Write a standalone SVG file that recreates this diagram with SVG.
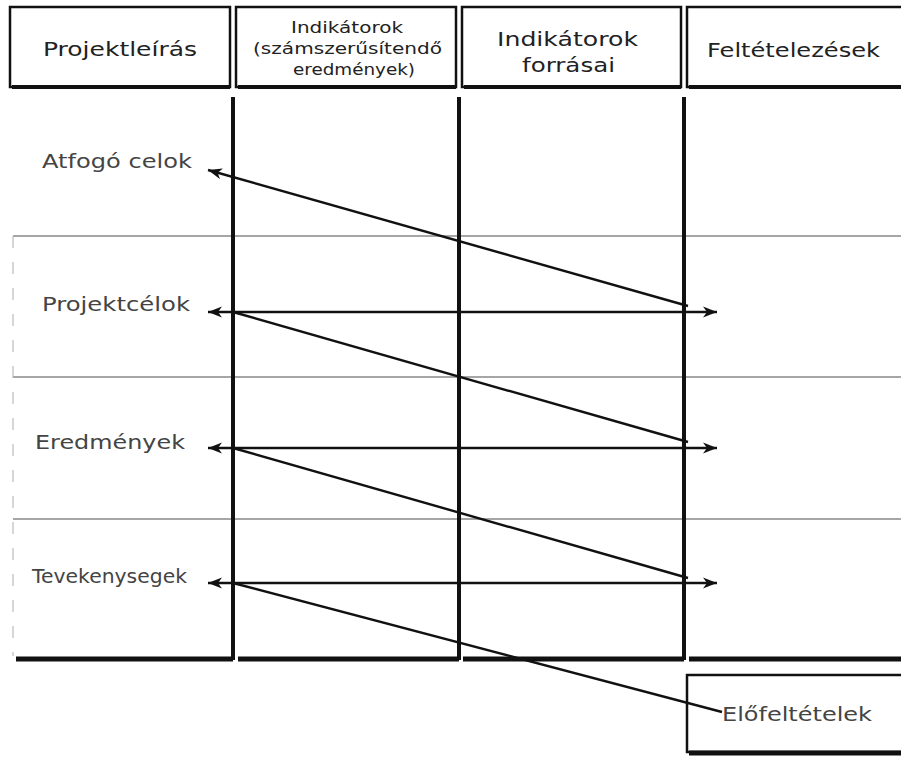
<svg xmlns="http://www.w3.org/2000/svg" width="901" height="760" viewBox="0 0 901 760">
<style>
.hbox{fill:#fff;stroke:#111;stroke-width:2.5}
.shadow{stroke:#111;stroke-width:4;fill:none}
.col{stroke:#111;stroke-width:4;fill:none}
.grid{stroke:#888;stroke-width:1.3;fill:none}
.edge{fill:none;stroke:#600;stroke:#111;stroke-width:2.4}
.ht{font-family:"DejaVu Sans","Liberation Sans",sans-serif;fill:#222}
.lt{font-family:"DejaVu Sans","Liberation Sans",sans-serif;fill:#444;font-size:19px}
</style>
<defs>
<marker id="ah" markerUnits="userSpaceOnUse" markerWidth="16" markerHeight="12" refX="14" refY="6" orient="auto-start-reverse">
<path d="M0,0.5 L14,6 L0,11.5 L4,6 Z" fill="#111"/>
</marker>
</defs>
<rect width="901" height="760" fill="#fff"/>

<g id="grid">
<line class="grid" x1="13" y1="236" x2="901" y2="236"/>
<line class="grid" x1="13" y1="377" x2="901" y2="377"/>
<line class="grid" x1="13" y1="519" x2="901" y2="519"/>
<line x1="13" y1="236" x2="13" y2="656" stroke="#bbb" stroke-width="1.2" stroke-dasharray="12 14"/>
<line class="col" x1="233" y1="97" x2="233" y2="660"/>
<line class="col" x1="459" y1="97" x2="459" y2="660"/>
<line class="col" x1="684" y1="97" x2="684" y2="660"/>
<line x1="16" y1="659" x2="233" y2="659" stroke="#111" stroke-width="5"/>
<line x1="238" y1="659" x2="459" y2="659" stroke="#111" stroke-width="5"/>
<line x1="463" y1="659" x2="684" y2="659" stroke="#111" stroke-width="5"/>
<line x1="689" y1="659" x2="901" y2="659" stroke="#111" stroke-width="5"/>
</g>

<g id="h1">
<rect class="hbox" x="10" y="7" width="220" height="80"/>
<line class="shadow" x1="12" y1="87" x2="230" y2="87"/>
<text class="ht" x="43" y="56" font-size="20" textLength="154" lengthAdjust="spacingAndGlyphs">Projektleírás</text>
</g>
<g id="h2">
<rect class="hbox" x="236" y="7" width="220" height="80"/>
<line class="shadow" x1="238" y1="87" x2="456" y2="87"/>
<text class="ht" x="291" y="33" font-size="15" textLength="112" lengthAdjust="spacingAndGlyphs">Indikátorok</text>
<text class="ht" x="253" y="54" font-size="15" textLength="189" lengthAdjust="spacingAndGlyphs">(számszerűsítendő</text>
<text class="ht" x="293" y="75" font-size="15" textLength="122" lengthAdjust="spacingAndGlyphs">eredmények)</text>
</g>
<g id="h3">
<rect class="hbox" x="462" y="7" width="219" height="80"/>
<line class="shadow" x1="464" y1="87" x2="681" y2="87"/>
<text class="ht" x="497" y="46" font-size="20" textLength="141" lengthAdjust="spacingAndGlyphs">Indikátorok</text>
<text class="ht" x="522" y="72" font-size="20" textLength="93" lengthAdjust="spacingAndGlyphs">forrásai</text>
</g>
<g id="h4">
<rect class="hbox" x="687" y="7" width="220" height="80"/>
<line class="shadow" x1="689" y1="87" x2="901" y2="87"/>
<text class="ht" x="707" y="57" font-size="20" textLength="173" lengthAdjust="spacingAndGlyphs">Feltételezések</text>
</g>

<g id="r1"><text class="lt" x="42" y="168" textLength="150" lengthAdjust="spacingAndGlyphs">Atfogó celok</text></g>
<g id="r2"><text class="lt" x="42" y="311" textLength="148" lengthAdjust="spacingAndGlyphs">Projektcélok</text></g>
<g id="r3"><text class="lt" x="35" y="449" textLength="150" lengthAdjust="spacingAndGlyphs">Eredmények</text></g>
<g id="r4"><text class="lt" x="32" y="583" textLength="155" lengthAdjust="spacingAndGlyphs">Tevekenysegek</text></g>

<g id="pre">
<rect class="hbox" x="687" y="675" width="220" height="77"/>
<line x1="689" y1="753" x2="901" y2="753" stroke="#111" stroke-width="5"/>
<text class="lt" x="722" y="721" textLength="150" lengthAdjust="spacingAndGlyphs">Előfeltételek</text>
</g>

<g id="connectors">
<line class="edge" x1="688" y1="306" x2="208" y2="170" marker-end="url(#ah)"/>
<line class="edge" x1="208" y1="312" x2="717" y2="312" marker-start="url(#ah)" marker-end="url(#ah)"/>
<line class="edge" x1="233" y1="312" x2="688" y2="442"/>
<line class="edge" x1="208" y1="448" x2="717" y2="448" marker-start="url(#ah)" marker-end="url(#ah)"/>
<line class="edge" x1="233" y1="448" x2="688" y2="578"/>
<line class="edge" x1="208" y1="583" x2="717" y2="583" marker-start="url(#ah)" marker-end="url(#ah)"/>
<line class="edge" x1="233" y1="583" x2="722" y2="712"/>
</g>
</svg>
